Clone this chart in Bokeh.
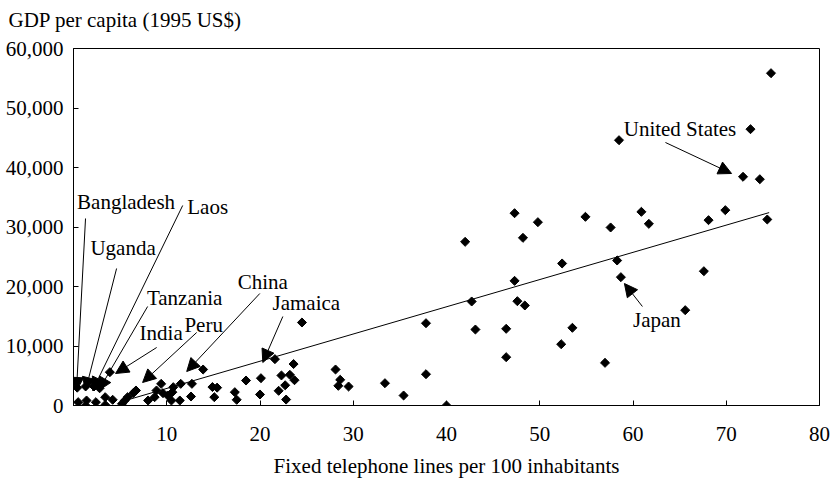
from bokeh.plotting import figure
from bokeh.models import (Range1d, FixedTicker, NumeralTickFormatter, Arrow,
                          NormalHead, ColumnDataSource, Title)
from bokeh.core.properties import value
from bokeh.embed import file_html
from bokeh.resources import INLINE

FONT = "Liberation Serif"
FS = "21px"

# --- data ---
tel_lines = [
    74.8, 72.6, 58.5, 71.8, 73.6, 60.9, 57.6, 61.7, 68.1, 69.9, 74.4, 58.3, 58.7, 67.6, 65.6, 57.0,
    47.3, 49.8, 54.9, 42.0, 48.2, 52.4, 47.3, 42.7, 47.6, 48.4, 43.1, 46.4, 53.5, 52.3, 46.4,
    37.8, 37.8, 33.4, 35.4, 40.0, 29.5, 28.6, 28.4, 28.1, 24.5,
    23.6, 22.3, 23.2, 23.7, 22.7, 22.0, 22.8, 21.6, 20.1, 20.0, 18.5, 17.3, 17.5, 14.9, 15.4, 15.1,
    13.9, 12.7, 11.5, 9.4, 10.7, 10.6, 10.1, 8.9, 9.6, 8.7, 8.0, 10.5, 11.4, 12.6, 6.7, 6.4, 5.8,
    5.5, 5.2, 4.2, 3.4, 3.4, 2.4, 1.4, 1.3, 0.5, 3.9,
    0.4, 1.3, 2.2, 2.8,
]
gdp_per_capita = [
    55850, 46440, 44590, 38440, 38030, 32550, 29920, 30530, 31150, 32830, 31260, 24370, 21570, 22570, 16020, 7170,
    32320, 30810, 31710, 27510, 28180, 23870, 20950, 17480, 17530, 16810, 12770, 12890, 13060, 10300, 8120,
    13830, 5260, 3750, 1680, 0, 3190, 4320, 3310, 6050, 13950,
    6970, 5050, 5160, 4250, 3400, 2470, 1000, 7790, 4590, 1850, 4200, 2240, 960, 3100, 3000, 1400,
    6050, 3640, 3640, 3640, 3080, 2240, 1680, 2520, 2070, 1400, 840, 840, 840, 1510, 2520, 2070, 1400,
    840, 280, 960, 1400, 100, 560, 840, 0, 560, 5600,
    3000, 3200, 3200, 2900,
]
assert len(tel_lines) == len(gdp_per_capita)

trend_x = [5.2, 74.6]
trend_y = [670, 32420]

x_ticks = [10, 20, 30, 40, 50, 60, 70, 80]
y_ticks = [0, 10000, 20000, 30000, 40000, 50000, 60000]

countries = ["Bangladesh", "Laos", "Uganda", "Tanzania", "India", "Peru",
             "China", "Jamaica", "United States", "Japan"]
label_x = [5.64, 14.39, 5.32, 11.92, 9.40, 13.96, 20.30, 24.97, 65.04, 62.57]
label_y = [34118, 33278, 26387, 18151, 12101, 13446, 20673, 17143, 46387, 14286]
arrow_x0 = [1.29, 11.71, 4.62, 7.95, 8.92, 13.21, 19.98, 22.45, 63.48, 61.01]
arrow_y0 = [31429, 33614, 23026, 16639, 9748, 12269, 18824, 14958, 44202, 16639]
arrow_x1 = [0.32, 2.04, 1.29, 2.69, 4.51, 7.41, 12.14, 20.30, 70.57, 59.08]
arrow_y1 = [2521, 2521, 2521, 2521, 5378, 3866, 5714, 7227, 38992, 20504]

p = figure(width=834, height=482, output_backend="svg", toolbar_location=None,
           x_range=Range1d(0, 80), y_range=Range1d(0, 60000),
           min_border_left=73, min_border_right=15, min_border_top=48,
           min_border_bottom=77)

p.background_fill_color = "white"
p.border_fill_color = "white"
p.outline_line_color = "black"
p.outline_line_alpha = 1.0
p.outline_line_width = 1
p.xgrid.visible = False
p.ygrid.visible = False

# y-axis title shown horizontally above the plot, flush left
p.title.text = "GDP per capita (1995 US$)"
p.title.align = "left"
p.title.offset = -65
p.title.standoff = 0
p.title.text_font = FONT
p.title.text_font_size = FS
p.title.text_font_style = "normal"
p.title.text_color = "black"
# small spacer between the title and the frame
p.add_layout(Title(text=" ", text_font_size="2px", standoff=13), "above")

p.xaxis.ticker = FixedTicker(ticks=x_ticks)
p.yaxis.ticker = FixedTicker(ticks=y_ticks)
p.yaxis.formatter = NumeralTickFormatter(format="0,0")
for ax in (p.xaxis, p.yaxis):
    ax.axis_line_color = "black"
    ax.major_tick_line_color = "black"
    ax.major_tick_in = 5
    ax.major_tick_out = 0
    ax.minor_tick_line_color = None
    ax.major_label_text_font = FONT
    ax.major_label_text_font_size = FS
    ax.major_label_text_color = "black"
p.yaxis.major_label_standoff = 10
p.xaxis.major_label_standoff = 21
p.xaxis.axis_label = "Fixed telephone lines per 100 inhabitants"
p.xaxis.axis_label_text_font = FONT
p.xaxis.axis_label_text_font_size = FS
p.xaxis.axis_label_text_font_style = "normal"
p.xaxis.axis_label_text_color = "black"
p.xaxis.axis_label_standoff = 10

# trend line
p.line(trend_x, trend_y, line_color="black", line_width=1)

# points
p.scatter(tel_lines, gdp_per_capita, marker="square", angle=0.785398, size=6.4,
          fill_color="black", line_color="black")

# arrows
for x0, y0, x1, y1 in zip(arrow_x0, arrow_y0, arrow_x1, arrow_y1):
    p.add_layout(Arrow(end=NormalHead(size=13, fill_color="black", line_color="black"),
                       x_start=x0, y_start=y0, x_end=x1, y_end=y1,
                       line_color="black", line_width=1))

# country labels
src = ColumnDataSource(dict(x=label_x, y=label_y, t=countries))
p.text(x="x", y="y", text="t", source=src, text_font=value(FONT),
       text_font_size=FS, text_align="center", text_baseline="middle",
       text_color="black")

open("out.html", "w").write(file_html(p, INLINE))
